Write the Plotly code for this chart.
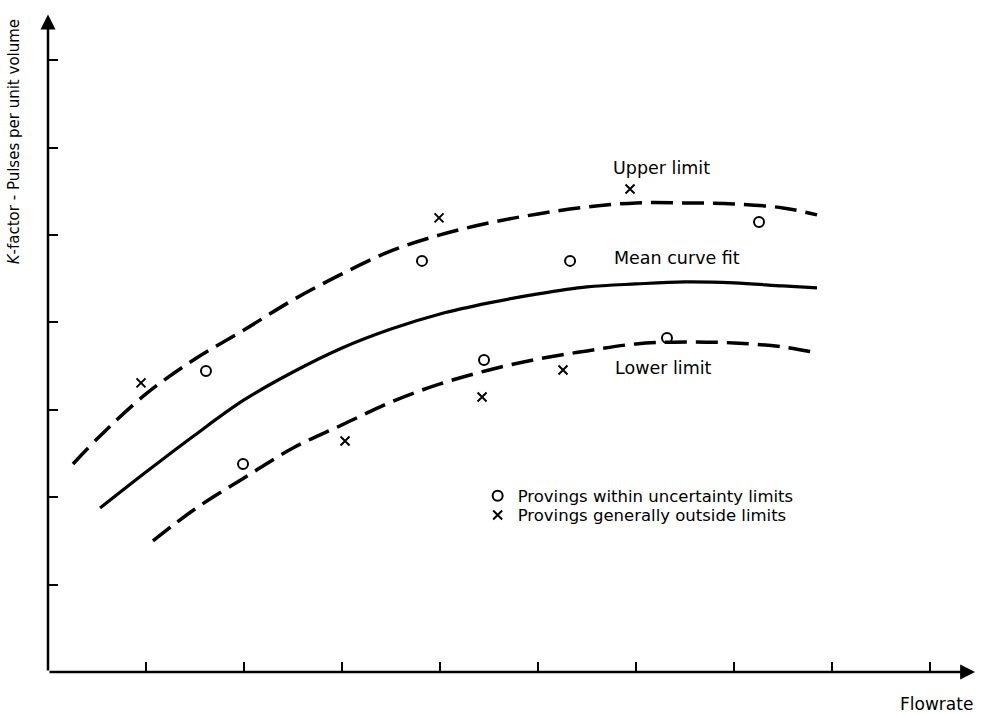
import plotly.graph_objects as go

# ---- data (axis units: flowrate ticks 1..9, K-factor ticks 1..7) ----
upper_x = [0.255, 0.531, 1.0, 1.5, 2.0, 2.5, 3.0, 3.5, 4.0, 4.5, 5.0, 5.5, 6.0, 6.5, 7.0, 7.5, 7.847]
upper_y = [2.380, 2.700, 3.181, 3.581, 3.913, 4.256, 4.554, 4.817, 5.000, 5.137, 5.240, 5.320,
           5.366, 5.366, 5.355, 5.309, 5.229]

mean_x = [0.531, 1.0, 1.5, 2.0, 2.5, 3.0, 3.5, 4.0, 4.5, 5.0, 5.5, 6.0, 6.5, 7.0, 7.5, 7.847]
mean_y = [1.876, 2.288, 2.712, 3.112, 3.432, 3.707, 3.924, 4.096, 4.222, 4.325, 4.405, 4.439,
          4.462, 4.451, 4.416, 4.394]

lower_x = [1.071, 1.5, 2.0, 2.5, 3.0, 3.5, 4.0, 4.5, 5.0, 5.5, 6.0, 6.5, 7.0, 7.5, 7.847]
lower_y = [1.499, 1.865, 2.220, 2.563, 2.826, 3.089, 3.295, 3.455, 3.581, 3.673, 3.753, 3.776,
           3.764, 3.719, 3.650]

within_x = [1.612, 1.990, 3.816, 4.449, 5.327, 6.316, 7.255]
within_y = [3.444, 2.380, 4.703, 3.570, 4.703, 3.822, 5.149]

outside_x = [0.949, 3.031, 3.990, 4.429, 5.255, 5.939]
outside_y = [3.307, 2.643, 5.195, 3.146, 3.455, 5.526]

x_ticks = [1, 2, 3, 4, 5, 6, 7, 8, 9]
y_ticks = [1, 2, 3, 4, 5, 6, 7]

curve_labels = ["Upper limit", "Mean curve fit", "Lower limit"]
label_x = [5.745, 5.755, 5.765]
label_y = [5.767, 4.737, 3.478]

x_title = "Flowrate"
y_title = "<i>K</i>-factor - Pulses per unit volume"
legend_names = ["Provings within uncertainty limits", "Provings generally outside limits"]

X_MAX, Y_MAX = 9.51, 7.55
X_ARROW, Y_ARROW = 9.46, 7.52

FONT = "DejaVu Sans"

fig = go.Figure()
fig.add_trace(go.Scatter(x=upper_x, y=upper_y, mode="lines", line_shape="spline",
                         line=dict(color="black", width=3.5, dash="22px,9px"), showlegend=False))
fig.add_trace(go.Scatter(x=mean_x, y=mean_y, mode="lines", line_shape="spline",
                         line=dict(color="black", width=3.2), showlegend=False))
fig.add_trace(go.Scatter(x=lower_x, y=lower_y, mode="lines", line_shape="spline",
                         line=dict(color="black", width=3.5, dash="22px,9px"), showlegend=False))
fig.add_trace(go.Scatter(x=within_x, y=within_y, mode="markers", name=legend_names[0],
                         legend="legend",
                         marker=dict(symbol="circle-open", size=10, color="black",
                                     line=dict(width=2, color="black"))))
fig.add_trace(go.Scatter(x=outside_x, y=outside_y, mode="markers", name=legend_names[1],
                         legend="legend2",
                         marker=dict(symbol="x-thin-open", size=9, color="black",
                                     line=dict(width=2, color="black"))))

annotations = []
# axes with arrows
annotations.append(dict(x=X_ARROW, y=0, ax=0, ay=0, xref="x", yref="y", axref="x", ayref="y",
                        showarrow=True, arrowhead=2, arrowsize=1.2, arrowwidth=2.5,
                        arrowcolor="black", text=""))
annotations.append(dict(x=0, y=Y_ARROW, ax=0, ay=0, xref="x", yref="y", axref="x", ayref="y",
                        showarrow=True, arrowhead=2, arrowsize=1.2, arrowwidth=2.5,
                        arrowcolor="black", text=""))
for t, lx, ly in zip(curve_labels, label_x, label_y):
    annotations.append(dict(x=lx, y=ly, xref="x", yref="y", text=t, showarrow=False,
                            xanchor="left", yanchor="middle",
                            font=dict(family=FONT, size=17.5, color="black")))
annotations.append(dict(x=9.07, y=0, xref="x", yref="paper", yshift=-32, text=x_title,
                        showarrow=False, xanchor="center", yanchor="middle",
                        font=dict(family=FONT, size=17, color="black")))
annotations.append(dict(x=0, y=6.06, xref="paper", yref="y", xshift=-34, text=y_title,
                        textangle=-90, showarrow=False, xanchor="center", yanchor="middle",
                        font=dict(family=FONT, size=15, color="black")))

leg_common = dict(xanchor="left", yanchor="top", font=dict(family=FONT, size=16.5, color="black"),
                  bgcolor="rgba(0,0,0,0)", itemwidth=30)

fig.update_layout(
    width=986, height=715,
    margin=dict(l=48, r=6, t=12, b=43),
    plot_bgcolor="white", paper_bgcolor="white",
    font=dict(family=FONT, color="black"),
    xaxis=dict(range=[0, X_MAX], showgrid=False, zeroline=False, showline=False,
               tickvals=x_ticks, ticks="inside", ticklen=10, tickwidth=2, tickcolor="black",
               showticklabels=False),
    yaxis=dict(range=[0, Y_MAX], showgrid=False, zeroline=False, showline=False,
               tickvals=y_ticks, ticks="inside", ticklen=10, tickwidth=2, tickcolor="black",
               showticklabels=False),
    legend=dict(x=0.461, y=0.293, **leg_common),
    legend2=dict(x=0.461, y=0.264, **leg_common),
    annotations=annotations,
)

fig.write_html("out.html")
